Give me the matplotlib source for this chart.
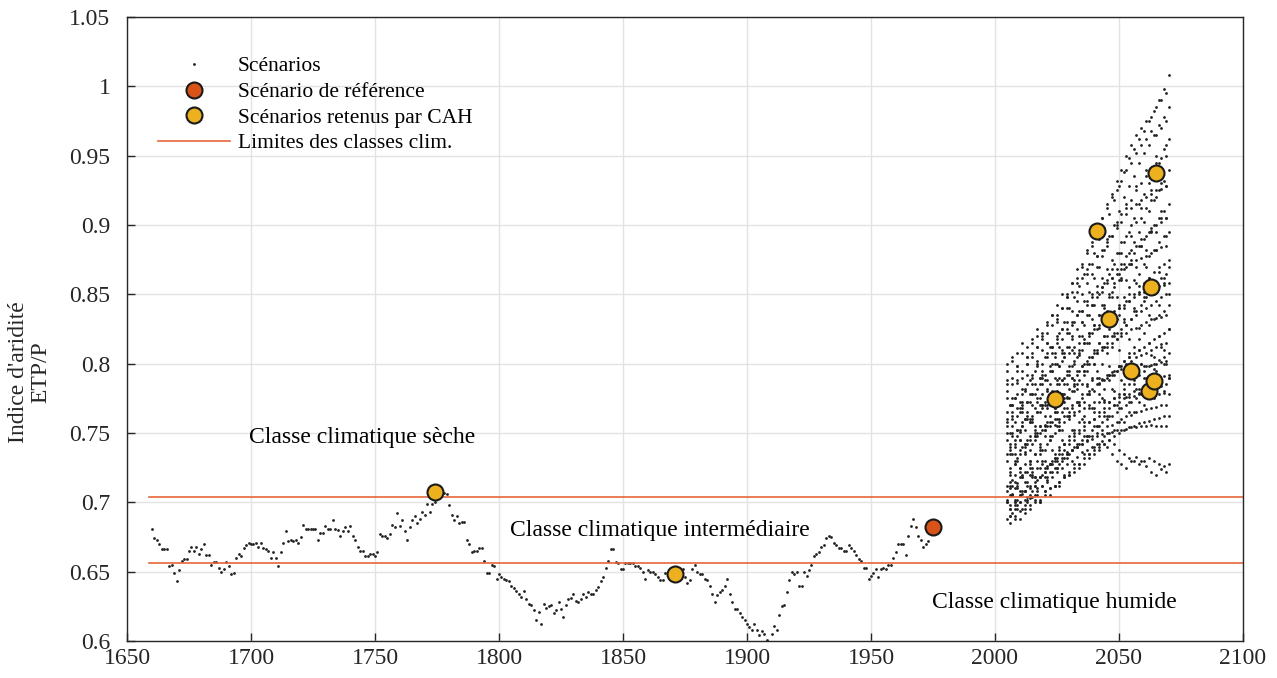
import matplotlib
matplotlib.use("Agg")
import matplotlib.pyplot as plt
from matplotlib.lines import Line2D
import numpy as np

plt.rcParams['font.family'] = ['Liberation Serif', 'DejaVu Serif']

# historical reconstruction, one value per year from 1660 (x1000)
hist_start = 1660
hist_vals = [
    681, 674, 673, 670, 666, 666, 666, 654, 655, 649,
    643, 651, 658, 659, 659, 665, 668, 665, 668, 663,
    666, 670, 662, 662, 655, 657, 657, 653, 650, 652,
    657, 654, 648, 649, 660, 663, 661, 667, 669, 671,
    670, 670, 671, 668, 671, 667, 666, 665, 660, 664,
    660, 654, 664, 671, 679, 672, 673, 672, 673, 671,
    675, 684, 681, 681, 681, 681, 681, 673, 678, 678,
    683, 681, 681, 687, 681, 680, 676, 679, 682, 679,
    683, 676, 673, 668, 665, 665, 661, 661, 663, 663,
    661, 664, 677, 676, 676, 674, 677, 684, 682, 692,
    683, 687, 679, 673, 682, 687, 690, 685, 688, 693,
    691, 699, 693, 699, 700, 706, 707, 707, 707, 706,
    698, 691, 687, 690, 685, 686, 686, 673, 670, 664,
    665, 665, 667, 667, 658, 649, 649, 655, 654, 645,
    648, 646, 645, 644, 643, 640, 638, 636, 634, 632,
    636, 630, 627, 626, 622, 615, 621, 612, 627, 624,
    625, 626, 620, 622, 628, 623, 617, 626, 630, 631,
    634, 629, 628, 630, 634, 632, 635, 634, 634, 637,
    639, 643, 646, 653, 658, 666, 666, 657, 656, 652,
    652, 656, 656, 656, 656, 654, 654, 653, 650, 645,
    651, 650, 650, 648, 646, 644, 644, 649, 649, 648,
    648, 648, 647, 650, 652, 646, 642, 644, 652, 655,
    650, 648, 648, 645, 644, 640, 634, 628, 633, 635,
    637, 640, 645, 634, 628, 623, 623, 620, 617, 615,
    612, 610, 608, 612, 608, 604, 607, 605, 601, 598,
    605, 611, 608, 619, 625, 626, 635, 644, 650, 648,
    650, 640, 640, 650, 647, 651, 655, 661, 663, 664,
    668, 669, 674, 676, 675, 671, 669, 667, 667, 665,
    665, 669, 667, 665, 662, 659, 658, 653, 653, 645,
    647, 649, 652, 646, 652, 653, 652, 655, 655, 660,
    664, 670, 670, 670, 662, 676, 683, 688, 682, 676,
    673, 668, 670, 672,
]

# future scenarios (x1000): half sampled on even years, half on odd years
scen_even_years = np.arange(2006, 2071, 2)
scen_odd_years = np.arange(2005, 2070, 2)
scen_even = [
    [770, 775, 768, 782, 788, 795, 790, 805, 812, 808, 822, 830, 840, 848, 856, 865, 872, 880, 890, 898, 908, 918, 928, 938, 948, 955, 962, 968, 975, 982, 990, 998, 1008],
    [750, 758, 765, 760, 772, 778, 785, 792, 798, 805, 812, 808, 822, 830, 838, 845, 852, 862, 870, 882, 892, 900, 910, 920, 928, 935, 945, 952, 958, 965, 972, 978, 985],
    [740, 745, 752, 760, 758, 768, 775, 772, 785, 790, 798, 805, 812, 808, 820, 828, 835, 842, 850, 858, 865, 872, 880, 888, 895, 905, 915, 922, 930, 938, 945, 955, 962],
    [720, 728, 735, 742, 738, 748, 755, 762, 770, 768, 778, 785, 792, 800, 808, 815, 820, 828, 835, 842, 850, 858, 865, 872, 880, 888, 895, 902, 910, 918, 925, 932, 940],
    [735, 740, 745, 752, 758, 755, 765, 770, 778, 775, 785, 790, 795, 802, 810, 815, 822, 828, 835, 840, 848, 855, 860, 868, 872, 880, 885, 890, 895, 900, 905, 910, 915],
    [710, 715, 722, 728, 725, 735, 742, 748, 755, 760, 758, 768, 775, 780, 788, 795, 800, 808, 815, 820, 828, 835, 840, 848, 855, 860, 865, 872, 878, 882, 888, 892, 895],
    [725, 730, 738, 735, 745, 750, 755, 752, 762, 768, 772, 778, 782, 788, 795, 800, 805, 810, 815, 820, 825, 830, 835, 840, 845, 850, 852, 858, 862, 866, 870, 872, 875],
    [770, 775, 772, 780, 778, 785, 790, 788, 795, 800, 798, 805, 808, 812, 815, 818, 822, 825, 828, 830, 835, 838, 840, 842, 845, 848, 850, 852, 853, 855, 856, 857, 858],
    [690, 695, 700, 708, 705, 712, 718, 722, 728, 732, 738, 742, 748, 752, 758, 762, 768, 772, 778, 782, 788, 792, 798, 802, 808, 812, 818, 822, 828, 832, 835, 838, 842],
    [715, 720, 725, 722, 730, 735, 740, 738, 745, 750, 752, 758, 762, 765, 770, 772, 778, 780, 785, 788, 792, 795, 798, 802, 805, 808, 810, 812, 815, 818, 820, 822, 825],
    [695, 700, 705, 702, 710, 715, 718, 722, 728, 730, 735, 738, 742, 745, 750, 752, 758, 760, 765, 768, 772, 775, 778, 782, 785, 788, 792, 795, 798, 800, 803, 805, 808],
    [705, 710, 708, 715, 720, 718, 725, 730, 728, 735, 740, 742, 745, 748, 752, 755, 758, 760, 762, 765, 768, 770, 772, 775, 778, 780, 782, 784, 786, 788, 790, 791, 792],
    [738, 742, 745, 742, 748, 752, 750, 755, 758, 756, 760, 762, 765, 763, 766, 768, 770, 768, 772, 774, 772, 775, 776, 778, 776, 777, 779, 778, 780, 779, 778, 779, 778],
    [685, 690, 694, 692, 698, 702, 700, 705, 710, 712, 715, 718, 722, 725, 728, 732, 735, 738, 740, 742, 745, 748, 750, 752, 754, 755, 757, 758, 759, 760, 761, 762, 762],
    [695, 698, 700, 698, 703, 705, 702, 708, 710, 712, 715, 718, 720, 722, 725, 728, 732, 735, 738, 742, 745, 742, 738, 735, 732, 730, 728, 730, 732, 730, 728, 726, 728],
    [742, 728, 751, 736, 760, 745, 770, 752, 778, 765, 790, 772, 798, 785, 806, 795, 815, 800, 826, 812, 835, 820, 842, 830, 850, 838, 856, 845, 862, 850, 866, 858, 870],
    [722, 735, 718, 740, 728, 748, 735, 756, 745, 765, 752, 775, 760, 784, 772, 792, 780, 800, 790, 812, 798, 822, 810, 832, 818, 840, 826, 848, 835, 856, 842, 862, 850],
    [690, 702, 688, 708, 695, 712, 700, 718, 705, 725, 712, 732, 720, 740, 728, 748, 735, 755, 742, 762, 750, 770, 758, 778, 765, 785, 772, 790, 778, 796, 784, 800, 790],
    [712, 700, 725, 708, 730, 718, 738, 725, 748, 732, 755, 742, 762, 750, 770, 758, 778, 765, 786, 772, 792, 780, 798, 785, 805, 792, 810, 798, 815, 805, 820, 810, 825],
    [698, 688, 705, 695, 712, 700, 718, 708, 722, 712, 728, 720, 735, 728, 742, 735, 748, 740, 755, 748, 762, 752, 768, 758, 772, 765, 778, 770, 782, 775, 786, 780, 790],
]
scen_odd = [
    [795, 802, 798, 808, 805, 815, 820, 818, 828, 835, 842, 850, 848, 858, 868, 870, 882, 888, 895, 905, 915, 922, 932, 940, 950, 958, 965, 970, 975, 978, 985, 990, 995],
    [780, 785, 795, 790, 800, 808, 812, 820, 815, 828, 835, 840, 850, 858, 862, 872, 880, 885, 898, 905, 912, 920, 925, 932, 940, 945, 952, 958, 962, 968, 965, 970, 975],
    [765, 770, 778, 772, 785, 790, 798, 795, 805, 812, 818, 825, 830, 838, 845, 850, 858, 865, 870, 878, 885, 892, 900, 908, 912, 918, 925, 930, 935, 940, 945, 948, 950],
    [800, 805, 808, 815, 812, 818, 825, 822, 830, 835, 832, 840, 848, 852, 858, 862, 868, 872, 878, 882, 888, 892, 898, 902, 908, 912, 915, 918, 920, 922, 925, 926, 928],
    [755, 760, 768, 765, 772, 778, 782, 790, 788, 795, 800, 808, 812, 818, 825, 830, 835, 842, 848, 852, 858, 862, 868, 872, 878, 882, 885, 890, 892, 896, 900, 902, 905],
    [785, 790, 788, 795, 800, 805, 802, 810, 815, 812, 820, 825, 822, 830, 835, 838, 842, 848, 852, 855, 860, 862, 865, 868, 870, 872, 875, 876, 878, 880, 882, 884, 885],
    [700, 705, 712, 718, 715, 725, 730, 738, 742, 748, 755, 752, 762, 768, 772, 778, 785, 790, 795, 800, 808, 812, 818, 822, 828, 832, 838, 842, 848, 852, 858, 862, 865],
    [745, 750, 748, 755, 760, 758, 765, 770, 768, 775, 780, 778, 785, 790, 792, 798, 802, 805, 810, 812, 815, 820, 822, 825, 828, 832, 835, 838, 840, 842, 845, 848, 850],
    [760, 765, 762, 768, 772, 770, 775, 778, 782, 780, 785, 788, 792, 790, 795, 798, 800, 805, 808, 810, 812, 815, 818, 820, 822, 825, 826, 828, 830, 832, 833, 834, 835],
    [730, 735, 732, 740, 745, 742, 748, 752, 755, 758, 760, 765, 768, 770, 772, 775, 778, 782, 785, 788, 790, 792, 795, 798, 800, 802, 805, 806, 808, 810, 812, 814, 815],
    [750, 755, 752, 758, 762, 760, 765, 768, 770, 772, 775, 778, 776, 780, 782, 785, 784, 788, 790, 789, 792, 794, 795, 796, 797, 798, 799, 800, 798, 799, 800, 801, 800],
    [688, 692, 698, 695, 702, 708, 705, 712, 718, 722, 725, 730, 735, 738, 742, 745, 748, 752, 755, 758, 760, 762, 765, 768, 770, 772, 775, 778, 780, 782, 783, 784, 785],
    [702, 706, 710, 708, 712, 718, 716, 720, 725, 728, 730, 732, 735, 738, 740, 742, 745, 748, 750, 752, 755, 756, 758, 760, 762, 763, 765, 766, 767, 768, 769, 770, 770],
    [712, 716, 714, 720, 722, 720, 725, 728, 726, 730, 732, 735, 736, 738, 740, 742, 744, 746, 748, 749, 750, 751, 752, 752, 753, 754, 754, 755, 755, 756, 755, 755, 755],
    [708, 705, 702, 706, 700, 704, 708, 712, 715, 718, 722, 725, 728, 730, 733, 736, 738, 740, 742, 744, 740, 735, 730, 728, 725, 730, 733, 730, 726, 722, 720, 724, 722],
    [700, 712, 695, 718, 704, 722, 710, 730, 716, 738, 725, 745, 732, 752, 740, 760, 748, 768, 755, 775, 762, 782, 770, 788, 776, 795, 782, 800, 790, 806, 795, 812, 802],
    [775, 762, 786, 770, 792, 778, 800, 785, 808, 795, 815, 802, 825, 810, 835, 820, 845, 832, 856, 842, 868, 852, 880, 862, 892, 875, 902, 885, 912, 895, 920, 905, 928],
    [758, 770, 752, 778, 765, 785, 772, 792, 780, 800, 788, 810, 795, 820, 805, 830, 815, 842, 825, 855, 838, 868, 848, 880, 860, 892, 870, 905, 882, 918, 895, 930, 905],
    [735, 748, 730, 755, 742, 762, 750, 770, 758, 778, 765, 788, 775, 798, 785, 810, 795, 822, 808, 835, 820, 848, 832, 860, 845, 872, 858, 885, 870, 898, 882, 910, 892],
    [788, 775, 798, 782, 805, 792, 812, 800, 822, 808, 830, 818, 840, 828, 852, 838, 865, 850, 878, 862, 890, 875, 902, 888, 915, 900, 928, 912, 940, 925, 950, 935, 958],
]

# reference scenario and scenarios kept by the clustering (CAH)
ref_year = [1975]
ref_val = [0.682]
cah_years = [1774, 1871, 2024, 2041, 2046, 2055, 2062, 2063, 2064, 2065]
cah_vals = [0.7075, 0.648, 0.7745, 0.8957, 0.832, 0.7947, 0.780, 0.855, 0.7875, 0.9375]

# limits of the climatic classes
class_limits = [0.6565, 0.704]

dot_col = '#222222'
ref_col = '#D95319'
cah_col = '#EDB120'
lim_col = '#E5673A'

fig = plt.figure(figsize=(12.77, 6.78), dpi=100)
ax = fig.add_axes([127/1277, 37/678, 1116/1277, 624/678])

hist_years = np.arange(hist_start, hist_start + len(hist_vals))
ax.plot(hist_years, np.array(hist_vals) / 1000, 'o', ms=2, color=dot_col, mec='none')
for s in scen_even:
    ax.plot(scen_even_years, np.array(s) / 1000, 'o', ms=2, color=dot_col, mec='none')
for s in scen_odd:
    ax.plot(scen_odd_years, np.array(s) / 1000, 'o', ms=2, color=dot_col, mec='none')

for lim in class_limits:
    ax.plot([hist_years[0] - 1, 2100], [lim, lim], color=lim_col, lw=1.2)

ax.plot(cah_years, cah_vals, 'o', ms=11.5, mfc=cah_col, mec='#1a1a1a', mew=1.5, zorder=5)
ax.plot(ref_year, ref_val, 'o', ms=11.5, mfc=ref_col, mec='#1a1a1a', mew=1.5, zorder=5)

ax.text(1745, 0.747, 'Classe climatique sèche', fontsize=17, ha='center', va='center')
ax.text(1865, 0.680, 'Classe climatique intermédiaire', fontsize=17, ha='center', va='center')
ax.text(2024, 0.628, 'Classe climatique humide', fontsize=17, ha='center', va='center')

ax.set_xlim(1650, 2100)
ax.set_ylim(0.6, 1.05)
ax.set_xticks(np.arange(1650, 2101, 50))
yt = np.arange(0.6, 1.051, 0.05)
ax.set_yticks(yt)
ax.set_yticklabels(['%g' % round(v, 2) for v in yt])
ax.grid(True, color='#e3e3e3', lw=1)
ax.set_axisbelow(True)
ax.tick_params(direction='in', length=6, width=1, labelsize=17, colors='#262626')
ax.tick_params(axis='y', pad=12)
ax.tick_params(axis='x', pad=5)
for sp in ax.spines.values():
    sp.set_color('#262626')
    sp.set_linewidth(1)
ax.set_ylabel("Indice d'aridité\nETP/P", fontsize=17, color='#262626', linespacing=1.05)
ax.yaxis.set_label_coords(-0.068, 0.431)

handles = [
    Line2D([], [], ls='none', marker='o', ms=2, color=dot_col, mec='none'),
    Line2D([], [], ls='none', marker='o', ms=11.5, mfc=ref_col, mec='#1a1a1a', mew=1.5),
    Line2D([], [], ls='none', marker='o', ms=11.5, mfc=cah_col, mec='#1a1a1a', mew=1.5),
    Line2D([], [], color=lim_col, lw=1.2),
]
labels = ['Scénarios', 'Scénario de référence', 'Scénarios retenus par CAH', 'Limites des classes clim.']
ax.legend(handles, labels, loc='upper left', bbox_to_anchor=(0.028, 0.937), frameon=False,
          fontsize=15.5, handlelength=3.35, handletextpad=0.35, labelspacing=0.26,
          borderpad=0, borderaxespad=0)

fig.savefig('out.png', dpi=100)
